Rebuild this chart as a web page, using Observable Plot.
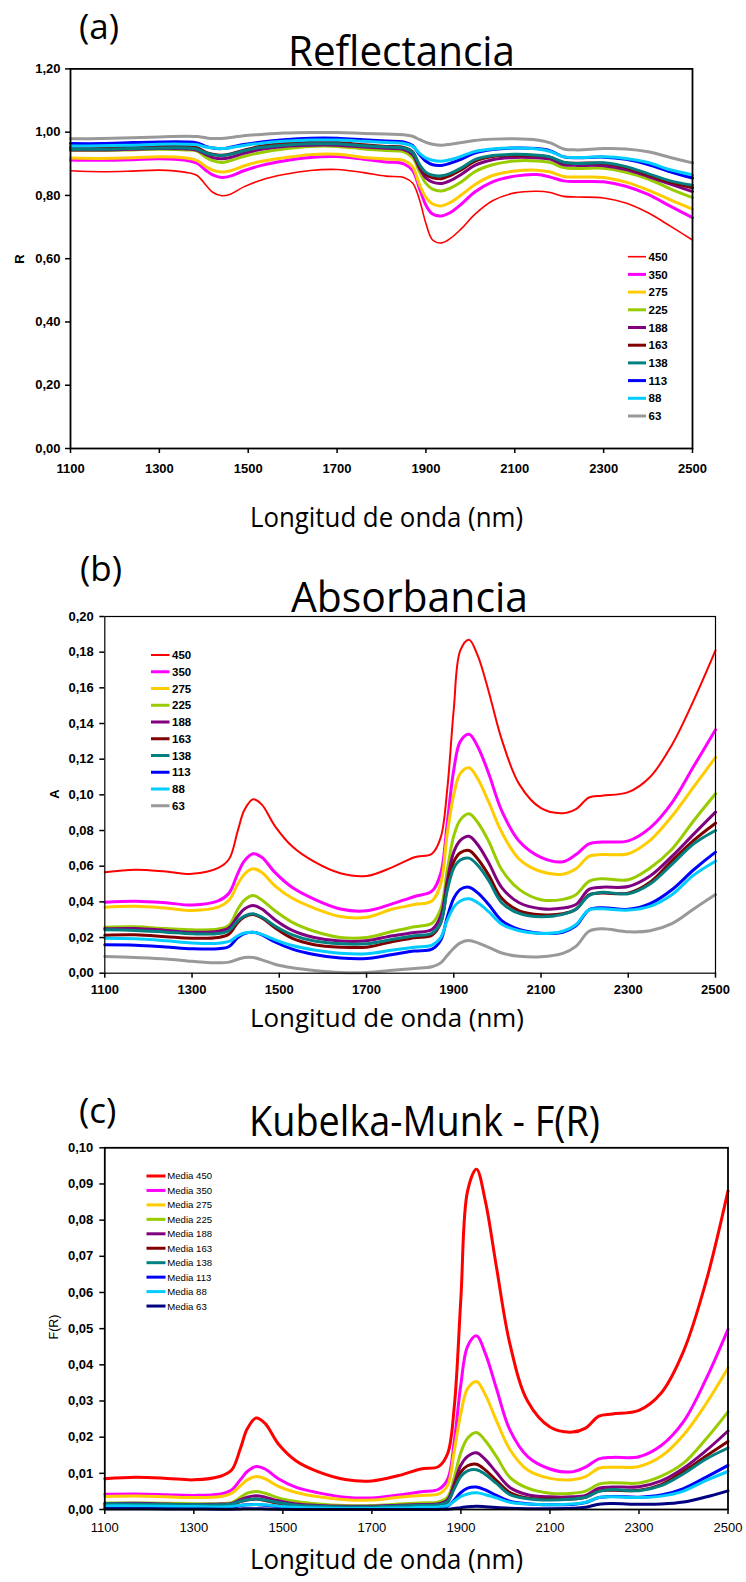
<!DOCTYPE html>
<html>
<head>
<meta charset="utf-8">
<script src="https://cdn.jsdelivr.net/npm/d3@7"></script>
<script src="https://cdn.jsdelivr.net/npm/@observablehq/plot@0.6"></script>
<style>
  html, body { margin: 0; padding: 0; background: #fff; }
  #page { position: relative; width: 746px; height: 1582px; overflow: hidden; background: #fff; }
  #overlay { position: absolute; left: 0; top: 0; pointer-events: none; }
</style>
</head>
<body>
<div id="page"></div>
<script>
// Wavelength grid (nm) shared by all spectra
const wavelengths = [1100,1170,1240,1300,1360,1385,1405,1420,1440,1460,1490,1530,1580,1640,1700,1760,1810,1850,1870,1885,1900,1915,1935,1955,1980,2010,2050,2100,2150,2180,2210,2240,2300,2350,2400,2450,2500];

// Particle size classes (µm) and their colours
const sizes = ["450","350","275","225","188","163","138","113","88","63"];
const colorsAB = ["#ff0000","#ff00ff","#ffcc00","#99cc00","#800080","#800000","#008080","#0000ff","#00ccff","#999999"];
const colorsC  = ["#ff0000","#ff00ff","#ffcc00","#99cc00","#800080","#800000","#008080","#0000ff","#00ccff","#000080"];

// Axis tick values
const xTickValues = [1100,1300,1500,1700,1900,2100,2300,2500];
const yTicksR = [0,0.2,0.4,0.6,0.8,1.0,1.2];
const yTicksA = [0,0.02,0.04,0.06,0.08,0.10,0.12,0.14,0.16,0.18,0.20];
const yTicksF = [0,0.01,0.02,0.03,0.04,0.05,0.06,0.07,0.08,0.09,0.10];

// (a) Reflectance
const refl450 = [.878,.875,.877,.880,.873,.863,.832,.810,.799,.804,.827,.849,.866,.879,.882,.872,.861,.857,.839,.789,.711,.659,.650,.664,.695,.740,.783,.808,.813,.809,.797,.795,.792,.776,.745,.703,.659];
const refl350 = [.912,.911,.913,.916,.911,.902,.879,.865,.857,.861,.878,.895,.909,.920,.923,.914,.906,.900,.879,.824,.769,.741,.735,.746,.773,.811,.843,.861,.866,.858,.846,.844,.843,.829,.803,.766,.730];
const refl275 = [.918,.917,.919,.922,.918,.910,.891,.880,.874,.878,.893,.908,.919,.929,.930,.920,.915,.911,.891,.836,.794,.773,.767,.778,.802,.834,.863,.877,.880,.874,.860,.858,.857,.842,.817,.786,.757];
const refl225 = [.942,.942,.944,.946,.944,.940,.920,.910,.904,.910,.923,.936,.947,.955,.955,.947,.942,.938,.920,.876,.838,.820,.814,.823,.843,.875,.897,.909,.909,.904,.888,.885,.886,.873,.852,.821,.793];
const refl188 = [.944,.944,.946,.948,.947,.943,.929,.920,.916,.920,.933,.946,.955,.959,.959,.953,.949,.945,.929,.887,.855,.842,.838,.847,.867,.895,.913,.920,.919,.915,.897,.895,.894,.882,.860,.836,.812];
const refl163 = [.952,.952,.954,.956,.955,.951,.936,.930,.927,.931,.943,.956,.964,.967,.967,.960,.955,.952,.938,.895,.866,.856,.853,.863,.881,.908,.923,.927,.926,.921,.904,.902,.902,.889,.865,.842,.824];
const refl138 = [.946,.946,.948,.950,.950,.946,.934,.929,.926,.930,.941,.952,.959,.963,.963,.957,.953,.950,.936,.899,.873,.864,.862,.870,.887,.913,.926,.930,.927,.921,.905,.901,.903,.891,.869,.846,.832];
const refl113 = [.964,.964,.967,.969,.969,.966,.955,.950,.948,.952,.961,.969,.976,.981,.981,.976,.972,.969,.958,.930,.908,.897,.895,.902,.915,.934,.945,.950,.948,.941,.922,.919,.921,.914,.898,.875,.855];
const refl88  = [.956,.957,.959,.962,.962,.960,.953,.950,.948,.951,.958,.965,.971,.975,.975,.971,.967,.964,.955,.934,.918,.911,.908,.913,.924,.939,.947,.950,.947,.939,.922,.920,.922,.917,.904,.881,.865];
const refl63  = [.979,.980,.982,.985,.987,.986,.982,.980,.980,.983,.989,.993,.997,.999,.999,.996,.994,.992,.987,.977,.968,.962,.959,.962,.967,.974,.978,.979,.975,.966,.947,.944,.948,.947,.938,.920,.903];

// (b) Absorbance
const abs450 = [.0566,.0580,.0570,.0557,.0590,.0640,.0800,.0915,.0975,.0945,.0825,.0710,.0625,.0560,.0545,.0595,.0650,.0670,.0760,.1030,.1480,.1810,.1870,.1780,.1580,.1310,.1060,.0925,.0897,.0920,.0985,.0995,.1015,.1100,.1280,.1530,.1810];
const abs350 = [.0398,.0404,.0395,.0382,.0405,.0450,.0560,.0630,.0670,.0650,.0565,.0480,.0415,.0360,.0350,.0390,.0430,.0460,.0560,.0840,.1140,.1300,.1340,.1270,.1120,.0910,.0740,.0650,.0625,.0665,.0725,.0735,.0742,.0815,.0955,.1160,.1365];
const abs275 = [.0370,.0375,.0365,.0352,.0370,.0410,.0500,.0555,.0585,.0565,.0490,.0420,.0365,.0318,.0314,.0360,.0385,.0405,.0500,.0780,.1000,.1120,.1152,.1090,.0960,.0790,.0640,.0570,.0555,.0585,.0655,.0665,.0670,.0745,.0880,.1045,.1210];
const abs225 = [.0258,.0260,.0250,.0243,.0248,.0270,.0360,.0410,.0436,.0410,.0350,.0285,.0235,.0200,.0200,.0235,.0260,.0280,.0360,.0576,.0770,.0860,.0894,.0845,.0740,.0580,.0470,.0412,.0414,.0440,.0515,.0530,.0524,.0590,.0695,.0855,.1006];
const abs188 = [.0249,.0250,.0240,.0230,.0235,.0255,.0320,.0360,.0380,.0360,.0300,.0240,.0200,.0180,.0182,.0210,.0228,.0245,.0320,.0520,.0680,.0745,.0768,.0720,.0620,.0480,.0395,.0362,.0365,.0385,.0470,.0482,.0486,.0545,.0655,.0780,.0903];
const abs163 = [.0213,.0215,.0205,.0196,.0200,.0220,.0285,.0315,.0329,.0310,.0255,.0195,.0160,.0146,.0146,.0178,.0198,.0213,.0280,.0482,.0625,.0675,.0688,.0640,.0550,.0420,.0350,.0328,.0333,.0358,.0440,.0449,.0449,.0510,.0630,.0745,.0841];
const abs138 = [.0243,.0240,.0230,.0221,.0222,.0240,.0295,.0320,.0333,.0315,.0265,.0215,.0180,.0165,.0165,.0190,.0210,.0224,.0285,.0464,.0590,.0635,.0645,.0605,.0520,.0395,.0335,.0316,.0330,.0358,.0435,.0454,.0445,.0500,.0610,.0725,.0800];
const abs113 = [.0159,.0157,.0147,.0137,.0137,.0150,.0200,.0222,.0230,.0215,.0175,.0135,.0105,.0085,.0082,.0105,.0124,.0135,.0185,.0314,.0420,.0470,.0482,.0450,.0385,.0295,.0245,.0224,.0230,.0265,.0355,.0367,.0358,.0390,.0468,.0580,.0679];
const abs88  = [.0196,.0193,.0182,.0170,.0168,.0178,.0210,.0225,.0230,.0218,.0188,.0155,.0130,.0112,.0109,.0130,.0146,.0158,.0200,.0296,.0370,.0405,.0417,.0395,.0345,.0275,.0238,.0222,.0235,.0272,.0355,.0361,.0354,.0375,.0440,.0550,.0628];
const abs63  = [.0094,.0088,.0080,.0067,.0058,.0062,.0078,.0088,.0088,.0075,.0050,.0030,.0015,.0004,.0004,.0016,.0027,.0036,.0058,.0099,.0140,.0170,.0183,.0170,.0145,.0113,.0095,.0092,.0111,.0150,.0235,.0249,.0232,.0238,.0278,.0360,.0441];

// (c) Kubelka-Munk function F(R)
const km450 = [.0085,.0089,.0086,.0082,.0092,.0109,.0170,.0223,.0253,.0238,.0181,.0134,.0104,.0083,.0079,.0094,.0112,.0119,.0154,.0283,.0586,.0881,.0941,.0852,.0669,.0458,.0299,.0228,.0214,.0225,.0258,.0264,.0274,.0322,.0437,.0627,.0881];
const km350 = [.0042,.0043,.0041,.0039,.0043,.0054,.0083,.0105,.0119,.0112,.0085,.0061,.0046,.0034,.0032,.0040,.0049,.0056,.0083,.0188,.0347,.0451,.0480,.0431,.0334,.0220,.0146,.0112,.0104,.0117,.0140,.0144,.0146,.0177,.0243,.0359,.0498];
const km275 = [.0036,.0037,.0035,.0033,.0036,.0045,.0066,.0082,.0091,.0085,.0064,.0047,.0035,.0027,.0026,.0034,.0039,.0043,.0066,.0162,.0266,.0334,.0354,.0317,.0245,.0166,.0109,.0086,.0082,.0091,.0114,.0117,.0119,.0147,.0206,.0291,.0391];
const km225 = [.0018,.0018,.0017,.0016,.0016,.0019,.0034,.0045,.0050,.0045,.0032,.0022,.0015,.0011,.0011,.0015,.0018,.0021,.0034,.0088,.0158,.0197,.0213,.0190,.0146,.0089,.0059,.0045,.0045,.0051,.0070,.0074,.0073,.0092,.0128,.0194,.0270];
const km188 = [.0016,.0017,.0015,.0014,.0015,.0017,.0027,.0034,.0038,.0034,.0024,.0015,.0011,.0009,.0009,.0012,.0014,.0016,.0027,.0072,.0123,.0147,.0157,.0138,.0102,.0061,.0041,.0035,.0035,.0039,.0059,.0062,.0063,.0079,.0114,.0162,.0217];
const km163 = [.0012,.0012,.0011,.0010,.0011,.0013,.0022,.0026,.0029,.0025,.0017,.0010,.0007,.0006,.0006,.0008,.0010,.0012,.0021,.0062,.0104,.0121,.0125,.0109,.0080,.0047,.0032,.0029,.0029,.0034,.0051,.0053,.0053,.0069,.0105,.0147,.0188];
const km138 = [.0016,.0015,.0014,.0013,.0013,.0015,.0023,.0027,.0029,.0026,.0019,.0012,.0009,.0007,.0007,.0010,.0012,.0013,.0022,.0057,.0092,.0107,.0110,.0097,.0072,.0041,.0030,.0026,.0029,.0034,.0050,.0055,.0052,.0066,.0099,.0139,.0170];
const km113 = [.0007,.0007,.0006,.0005,.0005,.0006,.0011,.0013,.0014,.0012,.0008,.0005,.0003,.0002,.0002,.0003,.0004,.0005,.0009,.0026,.0047,.0059,.0062,.0054,.0039,.0023,.0016,.0013,.0014,.0019,.0033,.0036,.0034,.0040,.0058,.0089,.0122];
const km88  = [.0010,.0010,.0009,.0008,.0007,.0008,.0012,.0013,.0014,.0013,.0009,.0006,.0004,.0003,.0003,.0004,.0006,.0007,.0011,.0023,.0036,.0043,.0046,.0041,.0032,.0020,.0015,.0013,.0015,.0020,.0033,.0035,.0033,.0037,.0051,.0080,.0105];
const km63  = [.00023,.00021,.00017,.00012,.00009,.00010,.00016,.00021,.00021,.00015,.00007,.00002,.00001,0,0,.00001,.00002,.00003,.00009,.00026,.00052,.00077,.00089,.00077,.00056,.00034,.00024,.00022,.00033,.0006,.00146,.00164,.00143,.0015,.00205,.00344,.00516];

const commaFmt = d => d.toFixed(2).replace(".", ",");
const page = document.getElementById("page");

function seriesRows(arrays) {
  return sizes.map((s, i) => wavelengths.map((w, j) => ({wl: w, v: arrays[i][j], size: s})));
}

function drawPanel(cfg) {
  const data = seriesRows(cfg.series);
  const svg = Plot.plot({
    width: 746,
    height: cfg.height,
    marginTop: cfg.mt, marginBottom: cfg.mb, marginLeft: cfg.ml, marginRight: cfg.mr,
    style: {fontFamily: "'Liberation Sans', Arial, sans-serif", fontSize: "13px", color: "#000", background: "transparent", overflow: "visible"},
    x: {domain: [1100, 2500]},
    y: {domain: cfg.yDomain},
    marks: [
      data.map((rows, i) => Plot.line(rows, {
        x: "wl", y: "v", stroke: cfg.colors[i], strokeWidth: cfg.widths[i],
        curve: "catmull-rom", strokeLinejoin: "round", strokeLinecap: "round"
      })),
      Plot.frame({stroke: "#000", strokeWidth: cfg.frameWidth}),
      Plot.axisX({ticks: xTickValues, tickFormat: d => String(d), tickSize: 5, tickPadding: cfg.xPad,
                  strokeWidth: 1.5, label: null, fontWeight: cfg.xBold ? "bold" : "normal"}),
      Plot.axisY({ticks: cfg.yTicks, tickFormat: commaFmt, tickSize: 5, tickPadding: cfg.yPad,
                  strokeWidth: 1.5, label: null, fontWeight: "bold"})
    ]
  });
  svg.style.position = "absolute";
  svg.style.left = "0px";
  svg.style.top = cfg.top + "px";
  page.appendChild(svg);
}

const thick = [3,3,3,3,3,3,3,3,3,3];
drawPanel({series: [refl450,refl350,refl275,refl225,refl188,refl163,refl138,refl113,refl88,refl63],
  top: 50, height: 440, mt: 18.4, mb: 42, ml: 70, mr: 54, yDomain: [0, 1.2], yTicks: yTicksR,
  colors: colorsAB, widths: [1.6,3,3,3,3,3,3,3,3,3], frameWidth: 1.8, xPad: 10, yPad: 5, xBold: true});
drawPanel({series: [abs450,abs350,abs275,abs225,abs188,abs163,abs138,abs113,abs88,abs63],
  top: 590, height: 420, mt: 26, mb: 37.3, ml: 104.3, mr: 31, yDomain: [0, 0.2], yTicks: yTicksA,
  colors: colorsAB, widths: [2,3,3,3,3,3,3,3,3,3], frameWidth: 1.2, xPad: 7, yPad: 6, xBold: true});
drawPanel({series: [km450,km350,km275,km225,km188,km163,km138,km113,km88,km63],
  top: 1120, height: 430, mt: 27.3, mb: 41, ml: 104.3, mr: 18.5, yDomain: [0, 0.1], yTicks: yTicksF,
  colors: colorsC, widths: thick, frameWidth: 1.8, xPad: 8, yPad: 6.5, xBold: false});

// Titles, axis names and legends
const overlay = d3.create("svg").attr("id", "overlay").attr("width", 746).attr("height", 1582);
const titleFont = "'Open Sans', 'Noto Sans', sans-serif";

function label(text, x, y, size, length) {
  const t = overlay.append("text").attr("x", x).attr("y", y)
    .attr("font-family", titleFont).attr("font-size", size).attr("fill", "#000").text(text);
  if (length) t.attr("textLength", length).attr("lengthAdjust", "spacingAndGlyphs");
}
function yName(text, x, y, size, weight) {
  overlay.append("text").attr("transform", `translate(${x},${y}) rotate(-90)`)
    .attr("text-anchor", "middle").attr("dy", "0.35em")
    .attr("font-family", "'Liberation Sans', Arial, sans-serif").attr("font-size", size)
    .attr("font-weight", weight).attr("fill", "#000").text(text);
}
function legend(cfg) {
  sizes.forEach((s, i) => {
    const y = cfg.y0 + i * cfg.step;
    overlay.append("line").attr("x1", cfg.x0).attr("x2", cfg.x1).attr("y1", y).attr("y2", y)
      .attr("stroke", cfg.colors[i]).attr("stroke-width", cfg.widths[i]);
    overlay.append("text").attr("x", cfg.tx).attr("y", y).attr("dy", "0.36em")
      .attr("font-family", "'Liberation Sans', Arial, sans-serif").attr("font-size", cfg.size)
      .attr("font-weight", cfg.weight).attr("fill", "#000").text(cfg.prefix + s);
  });
}

// Panel (a)
label("(a)", 79, 39, 35);
label("Reflectancia", 288, 66, 42, 227);
label("Longitud de onda (nm)", 250, 527, 27, 273);
yName("R", 19, 259, 13, "bold");
legend({x0: 628, x1: 646, tx: 648.5, y0: 256.7, step: 17.7, size: 11.5, weight: "bold", prefix: "",
  colors: colorsAB, widths: [1.6,3,3,3,3,3,3,3,3,3]});

// Panel (b)
label("(b)", 80, 581, 35);
label("Absorbancia", 291, 612, 42, 237);
label("Longitud de onda (nm)", 250, 1027, 26, 274);
yName("A", 54, 794, 13, "bold");
legend({x0: 151, x1: 169.5, tx: 172, y0: 655, step: 16.75, size: 11.5, weight: "bold", prefix: "",
  colors: colorsAB, widths: [2,3,3,3,3,3,3,3,3,3]});

// Panel (c)
label("(c)", 79, 1123, 35);
label("Kubelka-Munk - F(R)", 249, 1136, 42, 351);
label("Longitud de onda (nm)", 250, 1569, 27, 273);
yName("F(R)", 54, 1327, 12.5, "normal");
legend({x0: 146.5, x1: 165.5, tx: 167.3, y0: 1176, step: 14.45, size: 9.6, weight: "normal", prefix: "Media ",
  colors: colorsC, widths: thick});

page.appendChild(overlay.node());
</script>
</body>
</html>
